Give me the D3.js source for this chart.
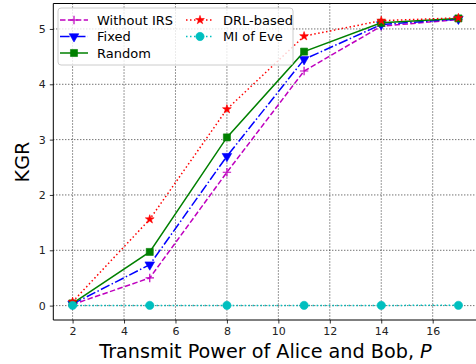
<!DOCTYPE html>
<html>
<head>
<meta charset="utf-8">
<script src="https://cdn.jsdelivr.net/npm/d3@7"></script>
<style>
  body { margin: 0; background: #fff; }
  svg { display: block; font-family: "DejaVu Sans", sans-serif; }
</style>
</head>
<body>
<div id="chart"></div>
<script>
// transmit power values (x)
var power = [2, 5, 8, 11, 14, 17];

// KGR per scheme
var withoutIRS = [0.02, 0.50, 2.41, 4.24, 5.05, 5.17];
var fixed      = [0.03, 0.74, 2.70, 4.45, 5.08, 5.18];
var random     = [0.04, 0.97, 3.04, 4.59, 5.11, 5.19];
var drlBased   = [0.07, 1.56, 3.55, 4.87, 5.15, 5.20];
var miEve      = [0.004, 0.004, 0.004, 0.004, 0.004, 0.005];

var xTicks = [2, 4, 6, 8, 10, 12, 14, 16];
var yTicks = [0, 1, 2, 3, 4, 5];

var width = 476, height = 364;
var plotLeft = 53.3, plotTop = 3.5, plotBottom = 320;

var x = d3.scaleLinear().domain([1.25, 17.75]).range([plotLeft, 477.7]);
var y = d3.scaleLinear().domain([-0.26, 5.46]).range([plotBottom, plotTop]);

var svg = d3.select("#chart").append("svg")
    .attr("width", width)
    .attr("height", height);

// grid
var grid = svg.append("g");
grid.selectAll(".gx").data(xTicks).enter().append("line")
    .attr("x1", function (d) { return x(d); })
    .attr("x2", function (d) { return x(d); })
    .attr("y1", plotTop).attr("y2", plotBottom)
    .attr("stroke", "#000").attr("stroke-width", 0.8)
    .attr("stroke-dasharray", "1,2");
grid.selectAll(".gy").data(yTicks).enter().append("line")
    .attr("y1", function (d) { return y(d); })
    .attr("y2", function (d) { return y(d); })
    .attr("x1", plotLeft).attr("x2", width)
    .attr("stroke", "#000").attr("stroke-width", 0.8)
    .attr("stroke-dasharray", "1,2");

var series = [
    {name: "Without IRS", values: withoutIRS, color: "#bf00bf", dash: "5.5,2.4", marker: "plus"},
    {name: "Fixed", values: fixed, color: "#0000ff", dash: "9.6,2.4,1.5,2.4", marker: "tri"},
    {name: "Random", values: random, color: "#008000", dash: null, marker: "square"},
    {name: "DRL-based", values: drlBased, color: "#ff0000", dash: "1.5,2.5", marker: "star"},
    {name: "MI of Eve", values: miEve, color: "#00bfbf", dash: "1.5,2.5", marker: "circle"}
];

function markerPath(type) {
    if (type === "plus") return "M-4.2,0H4.2M0,-4.2V4.2";
    if (type === "tri") return d3.symbol().type(d3.symbolTriangle).size(40)();
    if (type === "square") return d3.symbol().type(d3.symbolSquare).size(50)();
    if (type === "star") return d3.symbol().type(d3.symbolStar).size(24)();
    return d3.symbol().type(d3.symbolCircle).size(54)();
}

function drawMarker(g, type, color) {
    var p = g.append("path").attr("d", markerPath(type));
    if (type === "plus") {
        p.attr("fill", "none").attr("stroke", color).attr("stroke-width", 1.2);
    } else {
        p.attr("fill", color).attr("stroke", color).attr("stroke-width", 0.6);
    }
    if (type === "tri") p.attr("transform", "rotate(180)");
}

var line = d3.line()
    .x(function (d) { return x(d[0]); })
    .y(function (d) { return y(d[1]); });

var plot = svg.append("g");
series.forEach(function (s) {
    var pts = power.map(function (p, i) { return [p, s.values[i]]; });
    var sg = plot.append("g");
    sg.append("path")
        .attr("d", line(pts))
        .attr("fill", "none")
        .attr("stroke", s.color)
        .attr("stroke-width", 1.5)
        .attr("stroke-dasharray", s.dash);
    pts.forEach(function (d) {
        var m = sg.append("g").attr("transform", "translate(" + x(d[0]) + "," + y(d[1]) + ")");
        drawMarker(m, s.marker, s.color);
    });
});

// spines
svg.append("line").attr("x1", plotLeft).attr("x2", plotLeft).attr("y1", plotTop).attr("y2", plotBottom)
    .attr("stroke", "#000").attr("stroke-width", 1);
svg.append("line").attr("x1", plotLeft).attr("x2", width).attr("y1", plotBottom).attr("y2", plotBottom)
    .attr("stroke", "#000").attr("stroke-width", 1);
svg.append("line").attr("x1", plotLeft).attr("x2", width).attr("y1", plotTop).attr("y2", plotTop)
    .attr("stroke", "#000").attr("stroke-width", 1);

// axes
var xAxis = svg.append("g").attr("transform", "translate(0," + plotBottom + ")")
    .call(d3.axisBottom(x).tickValues(xTicks).tickSize(3.5).tickPadding(4).tickFormat(d3.format("d")));
var yAxis = svg.append("g").attr("transform", "translate(" + plotLeft + ",0)")
    .call(d3.axisLeft(y).tickValues(yTicks).tickSize(3.5).tickPadding(4).tickFormat(d3.format("d")));
[xAxis, yAxis].forEach(function (a) {
    a.select(".domain").remove();
    a.selectAll("text").attr("font-size", 11).attr("fill", "#222")
        .attr("font-family", "DejaVu Sans");
    a.selectAll("line").attr("stroke", "#000").attr("stroke-width", 0.8);
});

// axis labels
var xl = svg.append("text")
    .attr("x", (98 + 433) / 2).attr("y", 358)
    .attr("text-anchor", "middle")
    .attr("font-size", 19.2).attr("fill", "#000");
xl.append("tspan").text("Transmit Power of Alice and Bob, ");
xl.append("tspan").attr("font-style", "italic").text("P");

svg.append("text")
    .attr("transform", "translate(29,162) rotate(-90)")
    .attr("text-anchor", "middle")
    .attr("font-size", 19.2).attr("fill", "#000")
    .text("KGR");

// legend
var lg = svg.append("g");
lg.append("rect")
    .attr("x", 58).attr("y", 8).attr("width", 235).attr("height", 57)
    .attr("rx", 3).attr("fill", "#fff").attr("fill-opacity", 0.8)
    .attr("stroke", "#ccc").attr("stroke-width", 1);

var legendPos = [
    {x: 60, y: 20}, {x: 60, y: 36.5}, {x: 60, y: 53},
    {x: 186, y: 20}, {x: 186, y: 36.5}
];
series.forEach(function (s, i) {
    var p = legendPos[i];
    var g = lg.append("g").attr("transform", "translate(" + p.x + "," + p.y + ")");
    g.append("line").attr("x1", 0).attr("x2", 28).attr("y1", 0).attr("y2", 0)
        .attr("stroke", s.color).attr("stroke-width", 1.5)
        .attr("stroke-dasharray", s.dash);
    var m = g.append("g").attr("transform", "translate(14,0)");
    drawMarker(m, s.marker, s.color);
    g.append("text").attr("x", 37).attr("y", 4.5)
        .attr("font-size", 13).attr("fill", "#000")
        .text(s.name);
});
</script>
</body>
</html>
